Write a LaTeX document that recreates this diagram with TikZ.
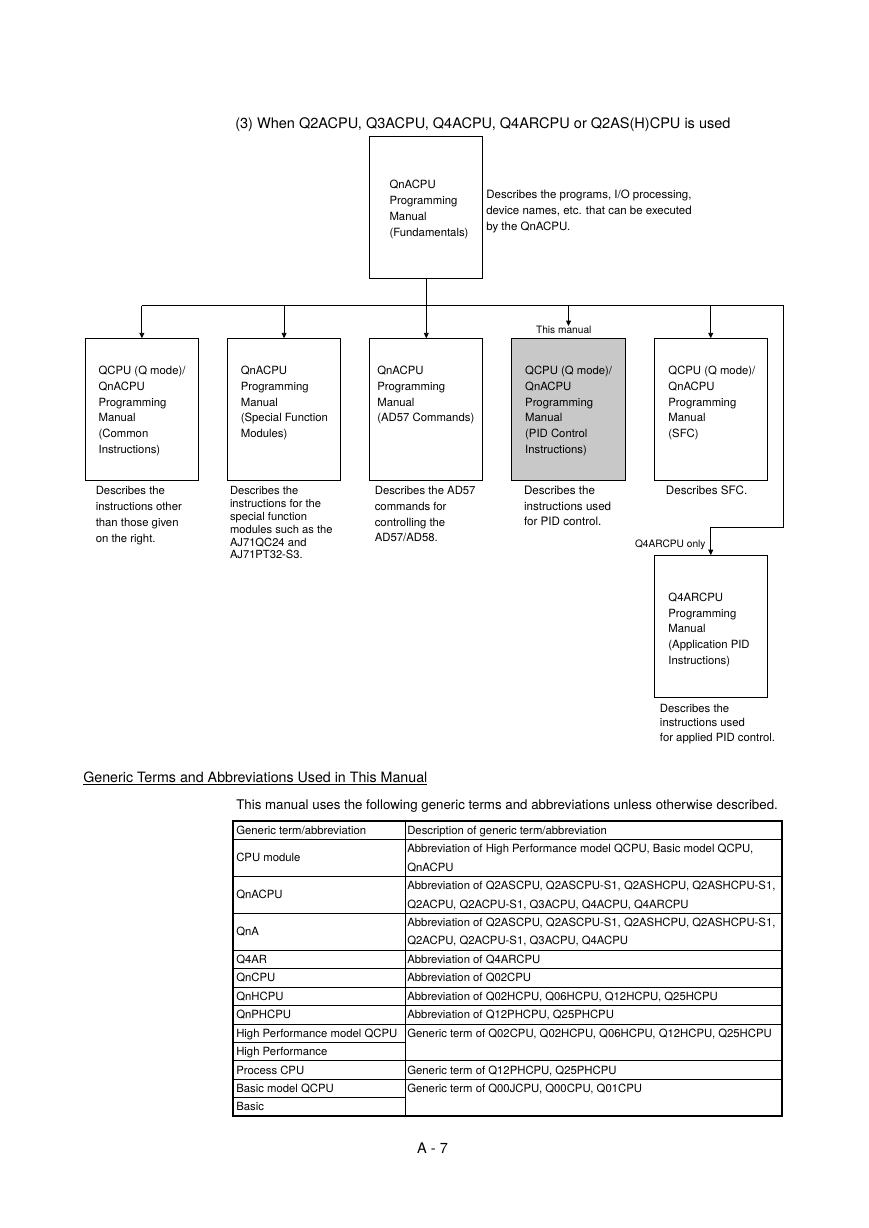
\documentclass[tikz,border=0pt]{standalone}
\usepackage{fontspec}
\setmainfont{TeX Gyre Heros}
\usetikzlibrary{positioning,arrows.meta,calc}
\definecolor{ThisFill}{RGB}{200,200,200}

\newlength\boxw \setlength\boxw{27.4mm}
\newlength\boxh \setlength\boxh{34.25mm}
% manual box text: indent, top gap, lines
\newcommand{\mantext}[3]{\parbox[c][\boxh][t]{\boxw}{\leftskip=#1\relax\rightskip=0pt plus 1fil\relax\vspace*{#2}#3\par}}
\newcommand{\desctext}[1]{\parbox[t]{60mm}{\raggedright #1}}

\begin{document}
\begin{tikzpicture}[x=0.24194mm,y=-0.24194mm,
node distance=6.8mm,
box/.style={rectangle,draw,line width=0.6pt,inner sep=0pt,font=\fontsize{7.8}{10.8}\selectfont},
desc/.style={anchor=base west,inner sep=0pt},
tag/.style={inner sep=0pt,font=\fontsize{7}{8}\selectfont},
arrow/.style={-{Triangle[length=1.3mm,width=1.2mm]},line width=0.6pt},
cell/.style={anchor=base west,inner sep=0pt,font=\fontsize{7.8}{9}\selectfont}
]
\path[use as bounding box] (0,0) rectangle (868,1228);
\node[anchor=base west,inner sep=0pt,font=\fontsize{10}{12}\selectfont] (title) at (235,128.2) {(3) When Q2ACPU, Q3ACPU, Q4ACPU, Q4ARCPU or Q2AS(H)CPU is used};

% manuals
\node[box] (fund) at (426.3,207.5) {\mantext{4.8mm}{10.6mm}{QnACPU\\Programming\\Manual\\(Fundamentals)}};
\node[box,below=14.4mm of fund] (ad57) {\mantext{1.85mm}{6.7mm}{QnACPU\\Programming\\Manual\\(AD57 Commands)}};
\node[box,left=of ad57] (special) {\mantext{3.24mm}{6.7mm}{QnACPU\\Programming\\Manual\\(Special Function\\Modules)}};
\node[box,left=of special] (common) {\mantext{3.24mm}{6.7mm}{QCPU (Q mode)/\\QnACPU\\Programming\\Manual\\(Common\\Instructions)}};
\node[box,right=of ad57,fill=ThisFill] (pid) {\mantext{3.22mm}{6.7mm}{QCPU (Q mode)/\\QnACPU\\Programming\\Manual\\(PID Control\\Instructions)}};
\node[box,right=of pid] (sfc) {\mantext{3.46mm}{6.7mm}{QCPU (Q mode)/\\QnACPU\\Programming\\Manual\\(SFC)}};
\node[box,below=18mm of sfc] (apid) {\mantext{3.46mm}{9.1mm}{Q4ARCPU\\Programming\\Manual\\(Application PID\\Instructions)}};

% descriptions
\node[desc,font=\fontsize{7.9}{10.9}\selectfont] (funddesc) at ($(fund.north east)+(2.7,62.5)$) {\desctext{Describes the programs, I/O processing,\\device names, etc. that can be executed\\by the QnACPU.}};
\node[desc,font=\fontsize{7.8}{11}\selectfont] (commondesc) at ($(common.south west)+(10.7,14.2)$) {\desctext{Describes the\\instructions other\\than those given\\on the right.}};
\node[desc,font=\fontsize{7.7}{8.8}\selectfont] (specialdesc) at ($(special.south west)+(2.7,14.2)$) {\desctext{Describes the\\instructions for the\\special function\\modules such as the\\AJ71QC24 and\\AJ71PT32-S3.}};
\node[desc,font=\fontsize{7.8}{10.8}\selectfont] (ad57desc) at ($(ad57.south west)+(5.3,14.2)$) {\desctext{Describes the AD57\\commands for\\controlling the\\AD57/AD58.}};
\node[desc,font=\fontsize{8}{10.7}\selectfont] (piddesc) at ($(pid.south west)+(12.3,14.2)$) {\desctext{Describes the\\instructions used\\for PID control.}};
\node[desc,font=\fontsize{8}{10.7}\selectfont] (sfcdesc) at ($(sfc.south west)+(12,14.2)$) {Describes SFC.};
\node[desc,font=\fontsize{7.8}{9.8}\selectfont] (apiddesc) at ($(apid.south west)+(6,15.2)$) {\desctext{Describes the\\instructions used\\for applied PID control.}};

\node[tag,anchor=base] (thism) at ($(pid.north)+(-4.8,-4.6)$) {This manual};
\node[tag,anchor=base east] (q4only) at ($(apid.north)+(-5,-7.7)$) {Q4ARCPU only};

% connectors
\coordinate[below=6.5mm of fund.south] (bus);
\coordinate (busR) at ($(sfc.east |- bus)+(15.7,0)$);
\coordinate[above=6.6mm of apid.north] (turn);
\draw[arrow] (common.north |- bus) -- (busR) |- (turn) -- (apid.north);
\draw[arrow] (fund) -- (ad57);
\draw[arrow] (common.north |- bus) -- (common);
\draw[arrow] (special.north |- bus) -- (special);
\draw[arrow] (pid.north |- bus) -- (pid.north |- thism.north);
\draw[arrow] (sfc.north |- bus) -- (sfc);

% generic terms
\node[anchor=base west,inner sep=0pt,font=\fontsize{9.8}{12}\selectfont] (gterms) at (83,782) {\underline{Generic Terms and Abbreviations Used in This Manual}};
\node[anchor=base west,inner sep=0pt,font=\fontsize{9.15}{11}\selectfont] (gnote) at (236,809.8) {This manual uses the following generic terms and abbreviations unless otherwise described.};

\draw[line width=0.6pt] (405.5,821) -- (405.5,1116.2);
\foreach \k in {1,3,5,7,8,9,11,13,14}
  \draw[line width=0.6pt] (233.3,{821+18.45*\k}) -- (781.7,{821+18.45*\k});
\foreach \k in {12,15}
  \draw[line width=0.6pt] (233.3,{821+18.45*\k}) -- (405.5,{821+18.45*\k});
\draw[line width=1.2pt] (233.3,{821+18.45*10}) -- (781.7,{821+18.45*10});
\draw[line width=1.2pt] (233.3,821) rectangle (781.7,1116.2);

\foreach \k/\cellt [count=\i] in {0/{Generic term/abbreviation},1.5/{CPU module},3.5/{QnACPU},5.5/{QnA},7/{Q4AR},8/{QnCPU},9/{QnHCPU},10/{QnPHCPU},11/{High Performance model QCPU},12/{High Performance},13/{Process CPU},14/{Basic model QCPU},15/{Basic}}
  \node[cell] (term\i) at (236,{821+18.45*(\k+0.5)+4}) {\cellt};
\foreach \k/\cellt [count=\i] in {0/{Description of generic term/abbreviation},
  1/{Abbreviation of High Performance model QCPU, Basic model QCPU,},2/{QnACPU},
  3/{Abbreviation of Q2ASCPU, Q2ASCPU-S1, Q2ASHCPU, Q2ASHCPU-S1,},4/{Q2ACPU, Q2ACPU-S1, Q3ACPU, Q4ACPU, Q4ARCPU},
  5/{Abbreviation of Q2ASCPU, Q2ASCPU-S1, Q2ASHCPU, Q2ASHCPU-S1,},6/{Q2ACPU, Q2ACPU-S1, Q3ACPU, Q4ACPU},
  7/{Abbreviation of Q4ARCPU},8/{Abbreviation of Q02CPU},9/{Abbreviation of Q02HCPU, Q06HCPU, Q12HCPU, Q25HCPU},
  10/{Abbreviation of Q12PHCPU, Q25PHCPU},11/{Generic term of Q02CPU, Q02HCPU, Q06HCPU, Q12HCPU, Q25HCPU},
  13/{Generic term of Q12PHCPU, Q25PHCPU},14/{Generic term of Q00JCPU, Q00CPU, Q01CPU}}
  \node[cell] (descr\i) at (407,{821+18.45*(\k+0.5)+4}) {\cellt};

\node[anchor=base,inner sep=0pt,font=\fontsize{10}{12}\selectfont] (pageno) at (432.5,1153.2) {A - 7};
\end{tikzpicture}
\end{document}
